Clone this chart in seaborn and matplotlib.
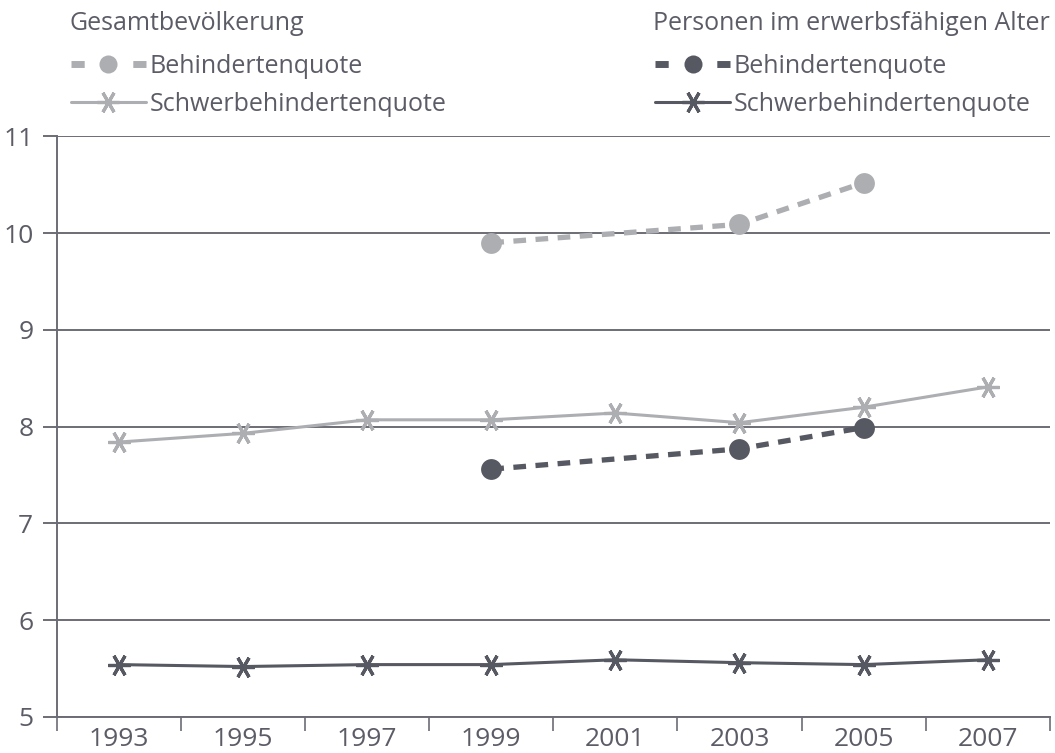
import numpy as np
import pandas as pd
import matplotlib
matplotlib.use("Agg")
import matplotlib.pyplot as plt
from matplotlib.lines import Line2D
import seaborn as sns

jahre = ["1993", "1995", "1997", "1999", "2001", "2003", "2005", "2007"]

# Gesamtbevölkerung
gesamt_behindert_jahre = ["1999", "2003", "2005"]
gesamt_behindert = [9.90, 10.09, 10.52]
gesamt_schwer = [7.84, 7.93, 8.07, 8.07, 8.14, 8.04, 8.20, 8.41]

# Personen im erwerbsfähigen Alter
erwerb_behindert_jahre = ["1999", "2003", "2005"]
erwerb_behindert = [7.56, 7.77, 7.99]
erwerb_schwer = [5.54, 5.52, 5.54, 5.54, 5.59, 5.56, 5.54, 5.59]

hell = "#adaeb2"
dunkel = "#565862"
text_farbe = "#5b5c66"
achse = "#6b6c75"

sns.set_theme(style="white")
plt.rcParams["font.family"] = ["Open Sans", "DejaVu Sans"]
plt.rcParams["text.color"] = text_farbe

pos = {j: i for i, j in enumerate(jahre)}

def frame(jahr_liste, werte):
    return pd.DataFrame({"pos": [pos[j] for j in jahr_liste], "wert": werte})

fig = plt.figure(figsize=(10.55, 7.53), dpi=100)
ax = fig.add_axes([0.054, 0.048, 0.941, 0.771])

stern = (6, 2, 90)
dash = (2.4, 1.8)

sns.lineplot(data=frame(jahre, gesamt_schwer), x="pos", y="wert", ax=ax,
             color=hell, linewidth=2.2, marker=stern, markersize=16,
             markeredgewidth=2.3, markeredgecolor=hell)
sns.lineplot(data=frame(jahre, erwerb_schwer), x="pos", y="wert", ax=ax,
             color=dunkel, linewidth=2.2, marker=stern, markersize=16,
             markeredgewidth=2.3, markeredgecolor=dunkel)
sns.lineplot(data=frame(gesamt_behindert_jahre, gesamt_behindert), x="pos", y="wert", ax=ax,
             color=hell, linewidth=3.8, marker="o", markersize=15,
             markeredgewidth=0)
ax.lines[-1].set_dashes(dash)
sns.lineplot(data=frame(erwerb_behindert_jahre, erwerb_behindert), x="pos", y="wert", ax=ax,
             color=dunkel, linewidth=3.8, marker="o", markersize=15,
             markeredgewidth=0)
ax.lines[-1].set_dashes(dash)

ax.set_xlim(-0.5, len(jahre) - 0.5)
ax.set_ylim(5, 11)
ax.set_yticks(range(5, 12))
ax.set_xticks(range(len(jahre)))
ax.set_xticklabels(jahre)
ax.set_xticks(np.arange(-0.5, len(jahre)), minor=True)
ax.set_xlabel("")
ax.set_ylabel("")

ax.grid(axis="y", color=achse, linewidth=1.4)
ax.set_axisbelow(True)
for s in ["top", "right"]:
    ax.spines[s].set_visible(False)
for s in ["left", "bottom"]:
    ax.spines[s].set_color(achse)
    ax.spines[s].set_linewidth(1.4)

ax.tick_params(axis="y", length=10, width=1.4, color=achse, labelsize=19,
               labelcolor=text_farbe, pad=7, left=True)
ax.tick_params(axis="x", which="major", length=0, labelsize=19,
               labelcolor=text_farbe, pad=7)
ax.tick_params(axis="x", which="minor", length=10, width=1.2, color=achse,
               bottom=True)

# legend handles: square dash, dot, square dash
leg_dash = (0, (1.9, 2.55))
h_gb = Line2D([], [], color=hell, linewidth=5, linestyle=leg_dash, marker="o",
              markersize=13, markeredgewidth=0)
h_gs = Line2D([], [], color=hell, linewidth=2.2, marker=stern, markersize=16,
              markeredgewidth=2.3)
h_eb = Line2D([], [], color=dunkel, linewidth=5, linestyle=leg_dash, marker="o",
              markersize=13, markeredgewidth=0)
h_es = Line2D([], [], color=dunkel, linewidth=2.2, marker=stern, markersize=16,
              markeredgewidth=2.3)

lab = ["Behindertenquote", "Schwerbehindertenquote"]
kw = dict(frameon=False, fontsize=18, handlelength=3.0,
          handletextpad=0.15, labelspacing=0.52,
          labelcolor=text_farbe, borderaxespad=0, borderpad=0)
fig.legend([h_gb, h_gs], lab, loc="upper left",
           bbox_to_anchor=(0.067, 0.928), **kw)
fig.legend([h_eb, h_es], lab, loc="upper left",
           bbox_to_anchor=(0.621, 0.928), **kw)

fig.text(0.066, 0.969, "Gesamtbevölkerung", fontsize=18, color=text_farbe,
         ha="left", va="center")
fig.text(0.995, 0.969, "Personen im erwerbsfähigen Alter", fontsize=18,
         color=text_farbe, ha="right", va="center")

fig.savefig("out.png", dpi=100)
